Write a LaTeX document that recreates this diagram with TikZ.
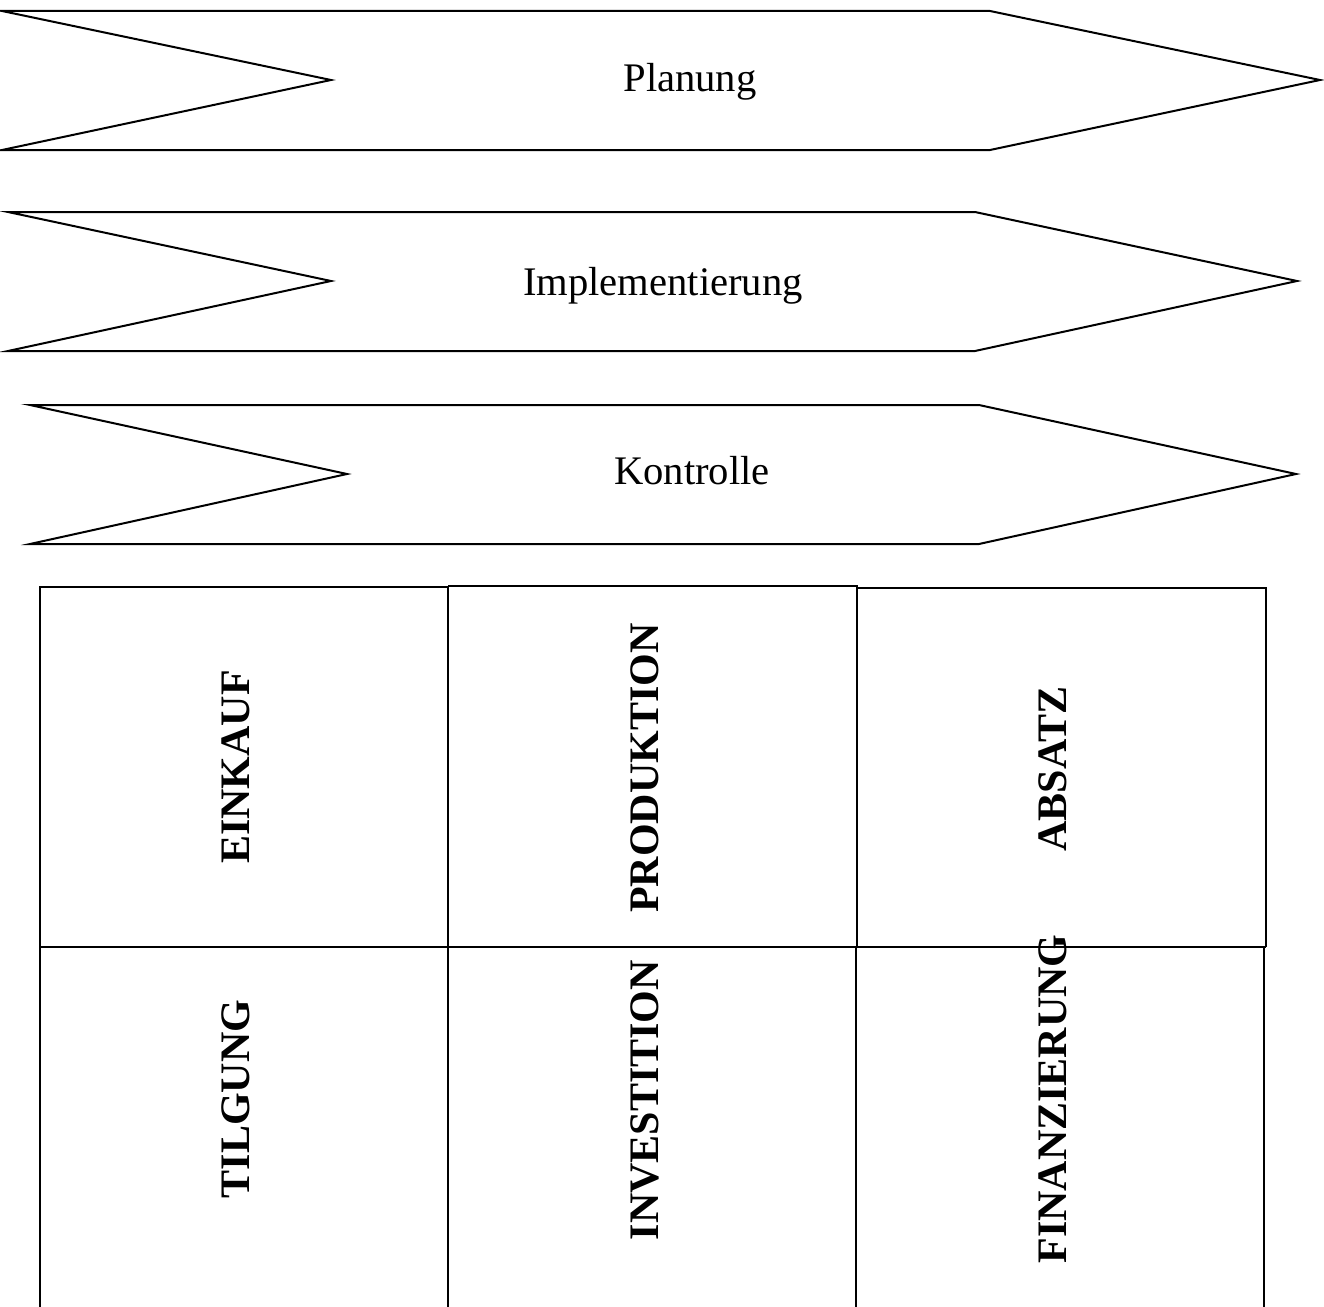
\documentclass[tikz,border=0pt]{standalone}
\usepackage{fontspec}
\setmainfont{Liberation Serif}
\begin{document}
\begin{tikzpicture}[x=1pt,y=-1pt,
  chev/.style={draw=black,line width=2pt,line join=miter,fill=white},
  phase/.style={font=\fontsize{40.6}{44}\selectfont,anchor=base,inner sep=0pt},
  grid/.style={draw=black,line width=2pt},
  area/.style={font=\fontsize{42}{46}\selectfont\bfseries,rotate=90,inner sep=0pt}]
\useasboundingbox (0,0) rectangle (1324,1306);

% phase bands
\draw[chev] (2,11) -- (990,11) -- (1320,80) -- (990,150) -- (2,150) -- (331,80) -- cycle;
\draw[chev] (8,212) -- (975,212) -- (1297,281) -- (975,351) -- (8,351) -- (331,281) -- cycle;
\draw[chev] (30,405) -- (979,405) -- (1296,474) -- (979,544) -- (30,544) -- (347,474) -- cycle;
\node[phase] (plan) at (690,92) {Planung};
\node[phase] (impl) at (663,295) {Implementierung};
\node[phase] (kontr) at (692,484) {Kontrolle};

% functional areas
\draw[grid] (40,1320) -- (40,587) -- (448,587) -- (448,1320);
\draw[grid] (448,586) -- (857,586) -- (857,947);
\draw[grid] (857,588) -- (1266,588) -- (1266,947);
\draw[grid] (40,947) -- (1266,947);
\draw[grid] (856,947) -- (856,1320);
\draw[grid] (1264,947) -- (1264,1320);

\node[area] (ein) at (236,767) {EINKAUF};
\node[area] (prod) at (645,768) {PRODUKTION};
\node[area] (abs) at (1053,769) {ABSATZ};
\node[area] (tilg) at (236,1099) {TILGUNG};
\node[area] (inv) at (645,1100) {INVESTITION};
\node[area] (fin) at (1053,1099) {FINANZIERUNG};
\end{tikzpicture}
\end{document}
